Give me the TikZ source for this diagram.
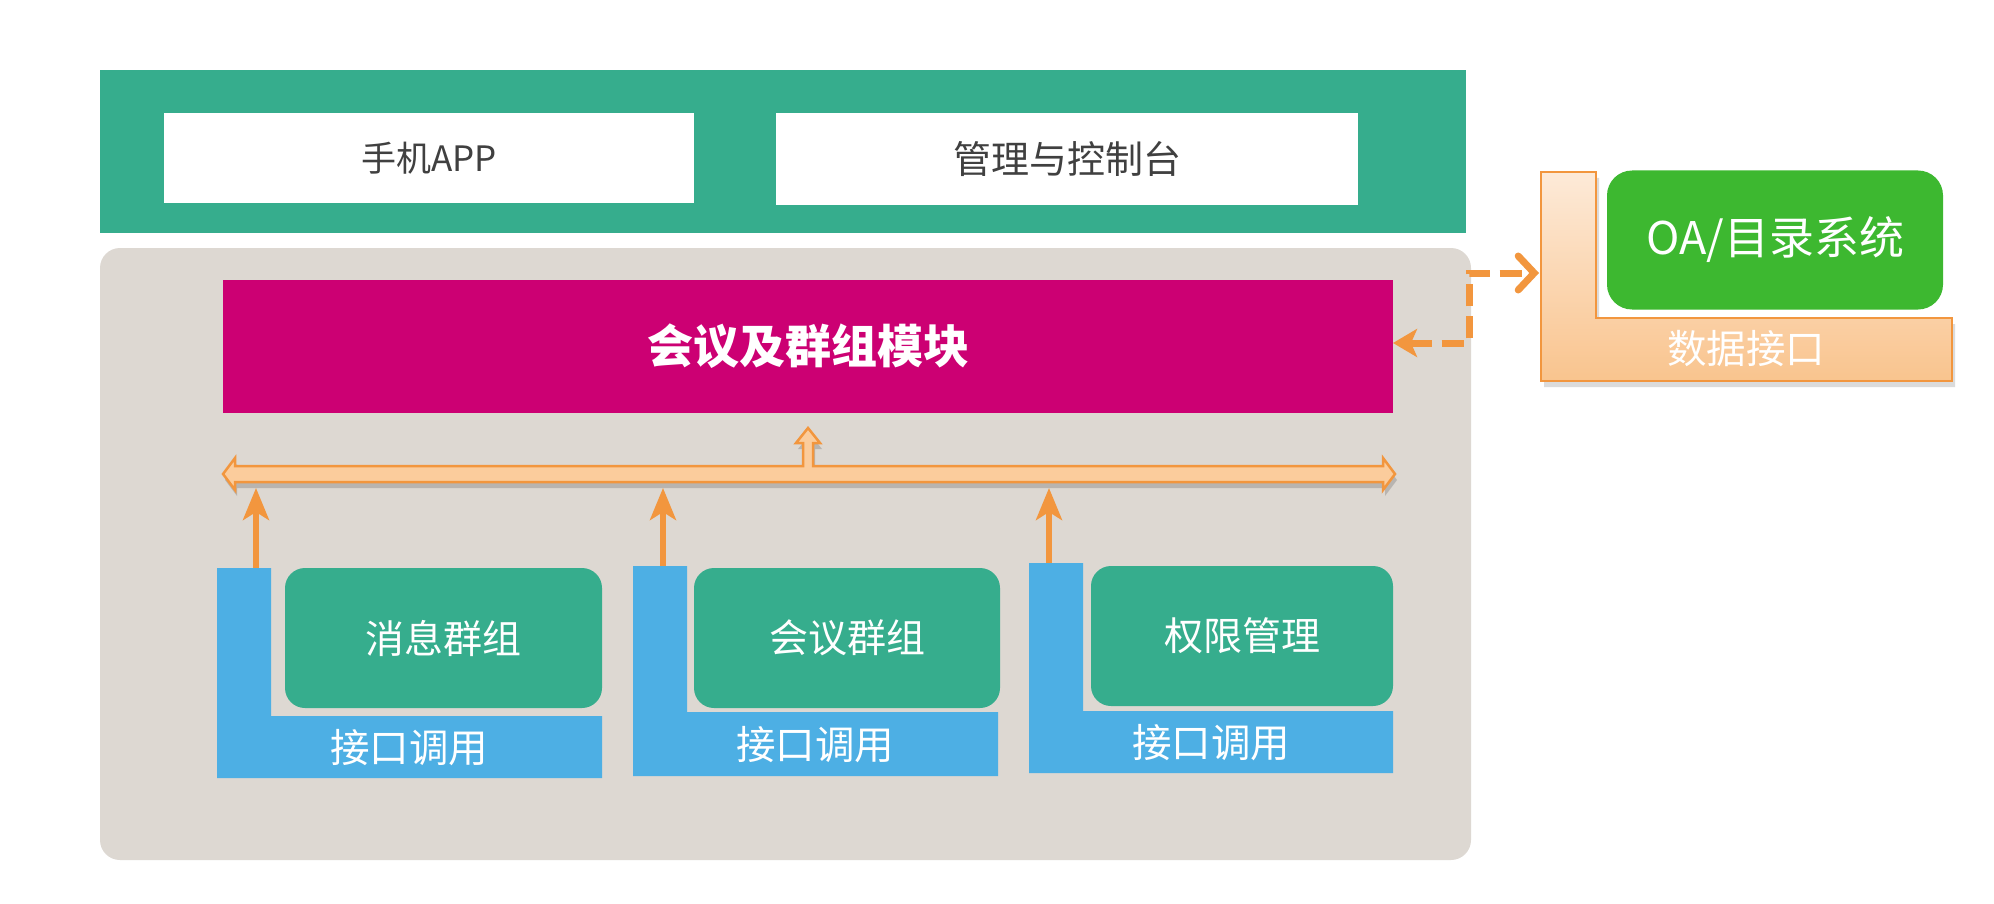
\documentclass[tikz,border=0pt]{standalone}
\usepackage{fontspec}
\newfontfamily\cjk{Noto Sans CJK SC}
\usetikzlibrary{arrows.meta,shadows}
\definecolor{tealgreen}{RGB}{54,173,141}
\definecolor{panelgray}{RGB}{221,216,210}
\definecolor{magentabox}{RGB}{204,0,115}
\definecolor{skyblue}{RGB}{77,175,228}
\definecolor{oagreen}{RGB}{61,184,48}
\definecolor{orangeline}{RGB}{242,150,62}
\definecolor{orangelight}{RGB}{253,234,216}
\definecolor{orangemid}{RGB}{249,196,142}
\definecolor{busfill}{RGB}{251,204,156}
\definecolor{darktext}{RGB}{64,64,64}
\tikzset{
  boxbase/.style={rectangle, inner sep=0pt, outer sep=0pt},
  whitebox/.style={boxbase, fill=white, text=darktext, font=\cjk\fontsize{35}{37}\selectfont},
  greenbox/.style={boxbase, fill=tealgreen, rounded corners=20pt, text=white, font=\cjk\fontsize{39}{41}\selectfont},
  bluel/.style={fill=skyblue},
  blabel/.style={inner sep=0pt, text=white, font=\cjk\fontsize{39.5}{41}\selectfont},
  uparrow/.style={draw=orangeline, line width=5.5pt, -{Stealth[length=32pt,width=26pt,inset=8pt]}},
  dasharrow/.style={draw=orangeline, line width=7pt, dash pattern=on 22pt off 10pt,
     {Stealth[length=24pt,width=28pt,inset=6pt]}-{Straight Barb[length=16pt,width=34pt,line cap=round]}},
}
\begin{document}
\begin{tikzpicture}[x=1pt,y=-1pt]
\useasboundingbox (0,0) rectangle (1994,904);
\fill[white] (0,0) rectangle (1994,904);

% top layer
\node[boxbase, fill=tealgreen, minimum width=1366pt, minimum height=163pt] (topband) at (783,151.5) {};
\node[whitebox, minimum width=530pt, minimum height=90pt] (app) at (429,158) {手机APP};
\node[whitebox, minimum width=582pt, minimum height=92pt, font=\cjk\fontsize{38}{40}\selectfont] (console) at (1067,159) {管理与控制台};

% gray panel
\node[boxbase, fill=panelgray, rounded corners=20pt, minimum width=1371pt, minimum height=612pt] (panel) at (785.5,554) {};

% magenta module
\node[boxbase, fill=magentabox, minimum width=1170pt, minimum height=133pt, text=white,
      font=\cjk\bfseries\fontsize{46}{48}\selectfont] (module) at (808,346.5) {会议及群组模块};

% bus double arrow
\path[fill=busfill, draw=orangeline, line width=2.5pt, line join=miter,
      drop shadow={shadow xshift=2pt, shadow yshift=-6pt, opacity=0.25, fill=black!70}]
  (223,474) -- (235,458) -- (235,466) -- (803,466) -- (803,443) -- (796,443) -- (808,428)
  -- (820,443) -- (813,443) -- (813,466) -- (1383,466) -- (1383,458) -- (1395,474)
  -- (1383,490) -- (1383,482) -- (235,482) -- (235,490) -- cycle;
\coordinate (bus1) at (256,488);
\coordinate (bus2) at (663,488);
\coordinate (bus3) at (1049,488);

% blue L shapes
\fill[bluel] (217,568) -- (271,568) -- (271,716) -- (602,716) -- (602,778) -- (217,778) -- cycle;
\fill[bluel] (633,566) -- (687,566) -- (687,712) -- (998,712) -- (998,776) -- (633,776) -- cycle;
\fill[bluel] (1029,563) -- (1083,563) -- (1083,711) -- (1393,711) -- (1393,773) -- (1029,773) -- cycle;
\node[blabel] (if1) at (409,748) {接口调用};
\node[blabel] (if2) at (815,745) {接口调用};
\node[blabel] (if3) at (1211,743) {接口调用};
\coordinate (l1top) at (256,568);
\coordinate (l2top) at (663,566);
\coordinate (l3top) at (1049,563);

% green function boxes
\node[greenbox, minimum width=317pt, minimum height=140pt] (msg) at (443.5,638) {消息群组};
\node[greenbox, minimum width=306pt, minimum height=140pt] (meet) at (847,638) {会议群组};
\node[greenbox, minimum width=302pt, minimum height=140pt] (perm) at (1242,636) {权限管理};

% up arrows
\draw[uparrow] (l1top) -- (bus1);
\draw[uparrow] (l2top) -- (bus2);
\draw[uparrow] (l3top) -- (bus3);

% orange L data interface
\path[top color=orangelight, bottom color=orangemid, draw=orangeline, line width=2.5pt,
      drop shadow={shadow xshift=3pt, shadow yshift=-6pt, opacity=0.2, fill=black!70}]
  (1541,172) -- (1596,172) -- (1596,318) -- (1952,318) -- (1952,381) -- (1541,381) -- cycle;
\node[blabel] (dataif) at (1746,349) {数据接口};
\coordinate (lleft) at (1539,273);
\node[boxbase, fill=oagreen, rounded corners=25pt, minimum width=336pt, minimum height=139pt,
      text=white, font=\cjk\fontsize{45}{47}\selectfont] (oa) at (1775,240) {OA/目录系统};

% dashed connector
\coordinate (bend1) at (1469,343);
\coordinate (bend2) at (1469,273);
\draw[dasharrow] (module.east |- bend1) -- (bend1) -- (bend2) -- (lleft);
\end{tikzpicture}
\end{document}
